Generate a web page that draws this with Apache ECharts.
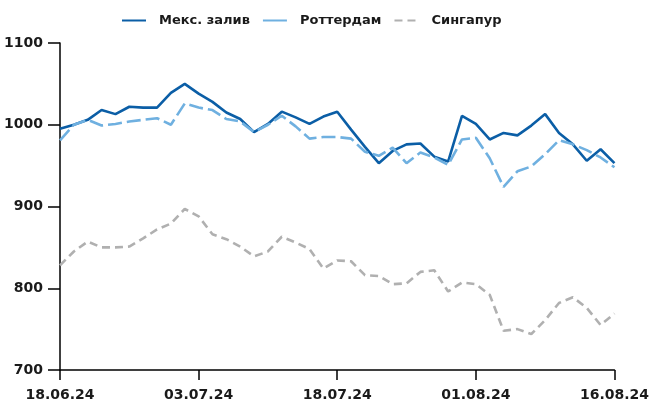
<!DOCTYPE html>
<html>
<head>
<meta charset="utf-8">
<script src="https://cdn.jsdelivr.net/npm/echarts@6/dist/echarts.min.js"></script>
<style>
  html, body { margin: 0; padding: 0; background: #fff; }
  #chart { width: 652px; height: 403px; }
</style>
</head>
<body>
<div id="chart"></div>
<script>
// торговые дни (без праздников)
const dates = [
    '18.06.24', '20.06.24', '21.06.24', '24.06.24', '25.06.24', '26.06.24', '27.06.24', '28.06.24',
    '01.07.24', '02.07.24', '03.07.24', '05.07.24', '08.07.24', '09.07.24', '10.07.24', '11.07.24',
    '12.07.24', '15.07.24', '16.07.24', '17.07.24', '18.07.24', '19.07.24', '22.07.24', '23.07.24',
    '24.07.24', '25.07.24', '26.07.24', '29.07.24', '30.07.24', '31.07.24', '01.08.24', '02.08.24',
    '05.08.24', '06.08.24', '07.08.24', '08.08.24', '09.08.24', '12.08.24', '13.08.24', '14.08.24',
    '16.08.24'
];

const gulf = [
    995, 1000, 1006, 1018, 1013, 1022, 1021, 1021, 1039, 1050,
    1038, 1028, 1015, 1007, 991, 1001, 1016, 1009, 1001, 1010,
    1016, 994, 973, 953, 968, 976, 977, 961, 955, 1011,
    1001, 982, 990, 987, 999, 1013, 990, 976, 956, 970,
    953
];

const rotterdam = [
    981, 1000, 1006, 999, 1001, 1004, 1006, 1008, 1000, 1026,
    1021, 1018, 1007, 1004, 991, 1000, 1011, 998, 983, 985,
    985, 983, 967, 962, 972, 953, 966, 960, 951, 982,
    984, 959, 924, 943, 949, 964, 981, 976, 969, 960,
    948
];

const singapore = [
    828, 845, 857, 850, 850, 851, 861, 872, 879, 897,
    888, 866, 860, 851, 839, 845, 863, 856, 848, 824,
    834, 833, 816, 815, 805, 806, 820, 822, 796, 807,
    805, 792, 748, 750, 744, 761, 782, 789, 776, 755,
    769
];

const yTicks = { min: 700, max: 1100, interval: 100 };

const FONT = 'DejaVu Sans';

function lineSeries(name, data, color, dash) {
    return {
        name: name,
        type: 'line',
        data: data,
        symbol: 'circle',
        symbolSize: 0,
        showSymbol: false,
        smooth: false,
        color: color,
        lineStyle: { color: color, width: 2.6, type: dash },
        emphasis: { disabled: true }
    };
}

const chart = echarts.init(document.getElementById('chart'));

chart.setOption({
    animation: false,
    backgroundColor: '#ffffff',
    textStyle: { fontFamily: FONT },
    legend: {
        top: 9,
        left: 116,
        itemWidth: 24,
        itemHeight: 3,
        itemGap: 12,
        itemStyle: { opacity: 0 },
        textStyle: { fontFamily: FONT, fontWeight: 'bold', fontSize: 13, color: '#1a1a1a', padding: [0, 0, 0, 8] },
        data: [
            'Мекс. залив',
            { name: 'Роттердам', lineStyle: { type: 'solid' } },
            'Сингапур'
        ]
    },
    grid: { left: 60, right: 37, top: 43, bottom: 33, containLabel: false },
    xAxis: {
        type: 'category',
        data: dates,
        boundaryGap: false,
        axisLine: { lineStyle: { color: '#000', width: 1.5 } },
        axisTick: { show: true, inside: false, interval: 9, length: 10, lineStyle: { color: '#000', width: 1.5 } },
        axisLabel: {
            interval: 9,
            margin: 18,
            fontFamily: FONT,
            fontWeight: 'bold',
            fontSize: 14,
            color: '#1a1a1a',
            showMaxLabel: true,
            showMinLabel: true
        },
        splitLine: { show: false }
    },
    yAxis: {
        type: 'value',
        min: yTicks.min,
        max: yTicks.max,
        interval: yTicks.interval,
        axisLine: { show: true, lineStyle: { color: '#000', width: 1.5 } },
        axisTick: { show: true, inside: false, length: 12, lineStyle: { color: '#000', width: 1.5 } },
        axisLabel: {
            margin: 17,
            fontFamily: FONT,
            fontWeight: 'bold',
            fontSize: 14,
            color: '#1a1a1a',
            formatter: v => String(v)
        },
        splitLine: { show: false }
    },
    series: [
        lineSeries('Мекс. залив', gulf, '#0b5ea6', 'solid'),
        lineSeries('Роттердам', rotterdam, '#6fb0e0', [14, 5]),
        lineSeries('Сингапур', singapore, '#b0b0b0', [8, 5])
    ]
});
</script>
</body>
</html>
